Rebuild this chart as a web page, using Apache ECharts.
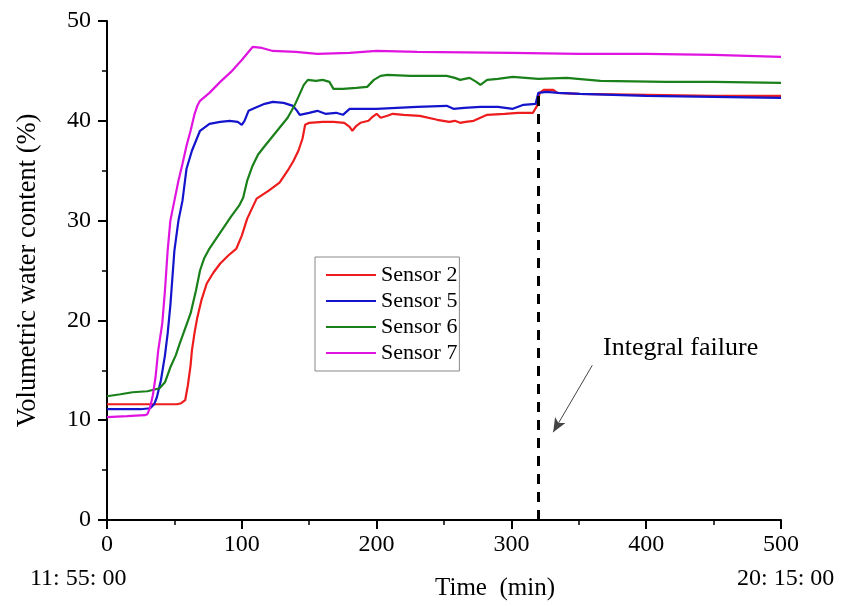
<!DOCTYPE html>
<html>
<head>
    <meta charset="utf-8">
    <title>Volumetric water content</title>
    <script type="text/javascript" src="https://cdn.jsdelivr.net/npm/echarts@6/dist/echarts.min.js"></script>
    <style>
        html, body { margin: 0; padding: 0; background: #fff; }
    </style>
</head>
<body>
<div id="main" style="width:862px;height:607px;"></div>

<script type="text/javascript">
    // [time (min), volumetric water content (%)]
    var sensor2 = [[0,11.6],[20,11.6],[40,11.6],[52,11.6],[55,11.7],[58,12],[60,13.5],[62,15.5],[63,17],[65,18.8],[67,20.3],[70,22],[74,23.7],[79,24.8],[84,25.7],[90,26.5],[96,27.2],[100,28.5],[104,30.2],[111,32.2],[120,33],[128,33.8],[134,35],[138,35.9],[142,37],[145,38.2],[147,39.6],[150,39.8],[160,39.9],[168,39.9],[176,39.8],[180,39.4],[182,39],[185,39.5],[188,39.8],[194,40],[197,40.4],[200,40.7],[203,40.3],[208,40.5],[212,40.7],[220,40.6],[232,40.5],[245,40.1],[254,39.9],[258,40],[262,39.8],[266,39.9],[272,40],[282,40.6],[295,40.7],[305,40.8],[316,40.8],[319,41.5],[321,42.8],[324,43.1],[331,43.1],[334,42.8],[350,42.7],[400,42.6],[450,42.5],[500,42.5]];
    var sensor5 = [[0,11.1],[25,11.1],[32,11.2],[35,11.6],[37,12.3],[40,14],[43,16.5],[45,18.7],[47,21.5],[50,27],[53,30],[56,32],[59,35.2],[63,37],[69,39],[76,39.7],[84,39.9],[91,40],[97,39.9],[100,39.6],[102,40],[105,41],[110,41.3],[117,41.7],[123,41.9],[131,41.8],[138,41.5],[141,41],[143,40.6],[150,40.8],[156,41],[162,40.7],[170,40.8],[175,40.6],[180,41.2],[200,41.2],[230,41.4],[252,41.5],[257,41.2],[265,41.3],[277,41.4],[290,41.4],[301,41.2],[309,41.6],[318,41.7],[320,42.8],[326,42.9],[335,42.8],[351,42.7],[400,42.5],[450,42.4],[500,42.3]];
    var sensor6 = [[0,12.4],[10,12.6],[19,12.8],[30,12.9],[39,13.2],[43,13.8],[47,15.3],[51,16.5],[54,17.7],[58,19.2],[62,20.7],[66,23],[69,25],[72,26.2],[76,27.2],[84,28.8],[92,30.4],[98,31.5],[101,32.3],[104,34],[108,35.5],[112,36.6],[116,37.3],[122,38.3],[128,39.3],[134,40.3],[139,41.5],[143,42.7],[146,43.6],[149,44.1],[155,44],[160,44.1],[165,43.9],[168,43.2],[175,43.2],[185,43.3],[193,43.4],[198,44.1],[203,44.5],[208,44.6],[225,44.5],[240,44.5],[252,44.5],[258,44.3],[262,44.1],[269,44.3],[274,43.9],[277,43.6],[282,44.1],[290,44.2],[301,44.4],[320,44.2],[341,44.3],[366,44],[415,43.9],[450,43.9],[500,43.8]];
    var sensor7 = [[0,10.3],[15,10.4],[28,10.5],[30,10.6],[32,11.3],[34,12.5],[36,14.3],[38,17],[41,19.7],[43,23],[45,27],[47,30],[50,32],[53,34],[56,35.7],[59,37.5],[62,39],[65,40.7],[67,41.5],[69,42],[76,42.8],[84,43.9],[92,44.9],[100,46.1],[108,47.4],[115,47.3],[123,47],[140,46.9],[156,46.7],[180,46.8],[200,47],[230,46.9],[300,46.8],[350,46.7],[400,46.7],[450,46.6],[500,46.4]];

    var seriesNames = ['Sensor 2', 'Sensor 5', 'Sensor 6', 'Sensor 7'];
    var seriesColors = ['#ee1c1c', '#1414cc', '#1a801a', '#e014e0'];
    var failureTime = 320;
    var failureTop = 43;

    var font = '"Liberation Serif", "Times New Roman", serif';

    var myChart = echarts.init(document.getElementById('main'));

    var allData = [sensor2, sensor5, sensor6, sensor7];
    var series = allData.map(function (d, i) {
        return {
            name: seriesNames[i],
            type: 'line',
            data: d,
            symbol: 'none',
            lineStyle: { width: 2.2, color: seriesColors[i] },
            itemStyle: { color: seriesColors[i] }
        };
    });

    // 破坏时刻的虚线和箭头
    series[0].markLine = {
        silent: true,
        symbol: ['none', 'none'],
        label: { show: false },
        data: [
            [{ coord: [failureTime, 0], lineStyle: { color: '#000', width: 3, type: [10, 8] } },
             { coord: [failureTime, failureTop] }],
            [{ coord: [360, 15.5], lineStyle: { color: '#444', width: 1, type: 'solid' } },
             { coord: [331, 8.8], symbol: 'arrow', symbolSize: [9, 14] }]
        ]
    };

    var option = {
        animation: false,
        grid: { left: 107, right: 81, top: 21, bottom: 87 },
        legend: {
            data: seriesNames,
            orient: 'vertical',
            left: 315,
            top: 257,
            borderColor: '#888',
            borderWidth: 1,
            padding: [7, 2, 7, 10],
            itemWidth: 50,
            itemHeight: 14,
            itemGap: 4,
            itemStyle: { opacity: 0 },
            textStyle: { fontFamily: font, fontSize: 22, color: '#000' }
        },
        xAxis: {
            type: 'value',
            min: 0, max: 500, interval: 100,
            name: 'Time  (min)',
            nameLocation: 'middle',
            nameGap: 56,
            nameTextStyle: { fontFamily: font, fontSize: 25, color: '#000', padding: [0, 0, 0, 102] },
            axisLine: { lineStyle: { color: '#000', width: 2 } },
            axisTick: { length: 9, lineStyle: { color: '#000', width: 2 } },
            minorTick: { show: true, splitNumber: 2, length: 5, lineStyle: { color: '#000', width: 1.5 } },
            axisLabel: { fontFamily: font, fontSize: 24, color: '#000', margin: 13 },
            splitLine: { show: false }
        },
        yAxis: {
            type: 'value',
            min: 0, max: 50, interval: 10,
            name: 'Volumetric water content (%)',
            nameLocation: 'middle',
            nameGap: 65,
            nameTextStyle: { fontFamily: font, fontSize: 26.5, color: '#000' },
            axisLine: { show: true, lineStyle: { color: '#000', width: 2 } },
            axisTick: { show: true, length: 9, lineStyle: { color: '#000', width: 2 } },
            minorTick: { show: true, splitNumber: 2, length: 5, lineStyle: { color: '#000', width: 1.5 } },
            axisLabel: { fontFamily: font, fontSize: 24, color: '#000', margin: 16 },
            splitLine: { show: false }
        },
        graphic: [
            { type: 'text', left: 30, top: 567, style: { text: '11: 55: 00', fontFamily: font, fontSize: 24, fill: '#000' } },
            { type: 'text', left: 737, top: 567, style: { text: '20: 15: 00', fontFamily: font, fontSize: 24, fill: '#000' } },
            { type: 'text', left: 603, top: 335, style: { text: 'Integral failure', fontFamily: font, fontSize: 26, fill: '#000' } }
        ],
        series: series
    };
    myChart.setOption(option);
</script>
</body>
</html>
